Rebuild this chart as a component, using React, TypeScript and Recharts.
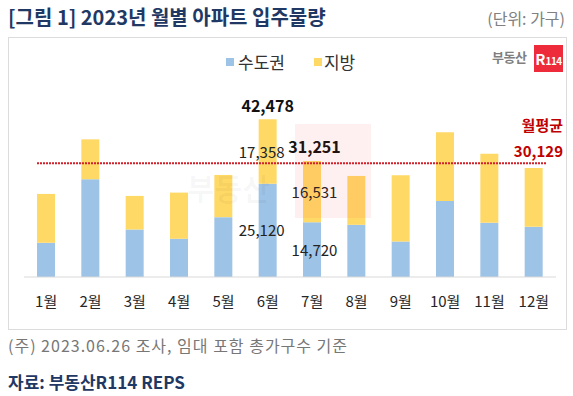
import { BarChart, Bar, XAxis, YAxis, ReferenceLine, LabelList, Legend } from "recharts";

const months = ["1월", "2월", "3월", "4월", "5월", "6월", "7월", "8월", "9월", "10월", "11월", "12월"];
const capital = [9220, 26340, 12800, 10300, 16130, 25120, 14720, 14060, 9570, 20510, 14600, 13520];
const regional = [13170, 10750, 9050, 12440, 11370, 17358, 16531, 13170, 17850, 18470, 18630, 15860];
const labeledMonths = ["6월", "7월"];
const labelShift = [-6, 2.5];
const monthlyAvg = 30129;

const data = months.map((m, i) => ({
  month: m,
  capital: capital[i],
  regional: regional[i],
  total: capital[i] + regional[i],
}));

const FONT = "'Noto Sans CJK KR', 'Noto Sans', sans-serif";
const fmt = (v: number) => v.toLocaleString("en-US");

const segLabel = (key: "capital" | "regional") => (props: any) => {
  const { x, y, width, height, index } = props;
  const d = data[index];
  const k = labeledMonths.indexOf(d.month);
  if (k < 0) return null;
  return (
    <text x={x + width / 2 + labelShift[k]} y={y + height / 2 + 2} textAnchor="middle" dominantBaseline="middle" fontSize={15} fill="#222" fontFamily={FONT}>
      {fmt(d[key])}
    </text>
  );
};

const totalLabel = (props: any) => {
  const { x, y, width, index } = props;
  const d = data[index];
  const k = labeledMonths.indexOf(d.month);
  if (k < 0) return null;
  return (
    <text x={x + width / 2 + (k === 1 ? 2.5 : 0)} y={y - 12} textAnchor="middle" dominantBaseline="middle" fontSize={16} fontWeight={700} fill="#111" fontFamily={FONT}>
      {fmt(d.total)}
    </text>
  );
};

const avgLabel = (props: any) => {
  const { viewBox } = props;
  const right = viewBox.x + viewBox.width + 7;
  return (
    <g fontFamily={FONT} fontWeight={700} fill="#c00000" fontSize={15} textAnchor="end">
      <text x={right} y={viewBox.y - 38} dominantBaseline="middle">월평균</text>
      <text x={right} y={viewBox.y - 12} dominantBaseline="middle">{fmt(monthlyAvg)}</text>
    </g>
  );
};

const legendContent = () => (
  <div style={{ display: "flex", fontFamily: FONT, fontSize: 17, color: "#333", lineHeight: "22px" }}>
    {[
      { name: "수도권", color: "#9dc3e6", gap: 4 },
      { name: "지방", color: "#ffd966", gap: 2 },
    ].map((it) => (
      <div key={it.name} style={{ display: "flex", alignItems: "center", marginRight: 29 }}>
        <span style={{ width: 8, height: 8, background: it.color, marginRight: it.gap, display: "inline-block" }} />
        <span>{it.name}</span>
      </div>
    ))}
  </div>
);

export default function App() {
  return (
    <div style={{ position: "absolute", left: 0, top: 0, width: 573, height: 396, background: "#fff", fontFamily: FONT, overflow: "hidden" }}>
      <div style={{ position: "absolute", left: 8, top: 3, fontSize: 20, fontWeight: 700, color: "#1f3864", lineHeight: "28px", whiteSpace: "nowrap" }}>
        [그림 1] 2023년 월별 아파트 입주물량
      </div>
      <div style={{ position: "absolute", right: 8, top: 6, fontSize: 16, color: "#808080", lineHeight: "24px" }}>(단위: 가구)</div>
      <div style={{ position: "absolute", left: 8, top: 37, width: 559, height: 293, border: "1px solid #dcdcdc", boxSizing: "border-box" }} />

      <div style={{ position: "absolute", left: 492, top: 47, fontSize: 13, fontWeight: 700, color: "#7f7f7f", lineHeight: "20px", letterSpacing: -0.5 }}>부동산</div>
      <div style={{ position: "absolute", left: 534, top: 45, width: 29, height: 27, background: "#ee2b3b", color: "#fff", fontWeight: 700, lineHeight: "27px", textAlign: "center" }}>
        <span style={{ fontSize: 15 }}>R</span>
        <span style={{ fontSize: 10, letterSpacing: -0.5 }}>114</span>
      </div>

      <div style={{ position: "absolute", left: 0, top: 0 }}>
        <BarChart width={573} height={396} data={data} margin={{ top: 110, right: 17, bottom: 89, left: 24 }} barSize={18}>
          <XAxis
            dataKey="month"
            height={30}
            tickLine={false}
            axisLine={{ stroke: "#d9d9d9" }}
            tickMargin={13}
            interval={0}
            tick={{ fontSize: 15, fill: "#262626", fontFamily: FONT }}
          />
          <YAxis hide domain={[0, 45000]} />
          <Legend
            verticalAlign="middle"
            align="center"
            content={legendContent}
            wrapperStyle={{ top: 51, left: 226, width: 220, height: 24 }}
          />
          <Bar dataKey="capital" name="수도권" stackId="a" fill="#9dc3e6" isAnimationActive={false}>
            <LabelList dataKey="capital" content={segLabel("capital")} />
          </Bar>
          <Bar dataKey="regional" name="지방" stackId="a" fill="#ffd966" isAnimationActive={false}>
            <LabelList dataKey="regional" content={segLabel("regional")} />
            <LabelList dataKey="total" content={totalLabel} />
          </Bar>
          <ReferenceLine
            y={monthlyAvg}
            stroke="#c00000"
            strokeWidth={2}
            strokeDasharray="2 1"
            shape={(p: any) => (
              <line x1={p.x1 + 13} y1={p.y1 - 2} x2={p.x2 - 10} y2={p.y2 - 2} stroke="#d0202a" strokeWidth={2} strokeDasharray="2 1" />
            )}
            label={avgLabel}
          />
        </BarChart>
      </div>

      <div style={{ position: "absolute", left: 187, top: 172, fontSize: 30, fontWeight: 700, color: "rgba(0,0,0,0.035)", lineHeight: "30px", pointerEvents: "none" }}>부동산</div>
      <div style={{ position: "absolute", left: 295, top: 124, width: 76, height: 94, background: "rgba(240,40,60,0.07)", pointerEvents: "none" }} />

      <div style={{ position: "absolute", left: 8, top: 333, fontSize: 16, letterSpacing: 1, color: "#777", lineHeight: "24px", whiteSpace: "nowrap" }}>
        (주) 2023.06.26 조사, 임대 포함 총가구수 기준
      </div>
      <div style={{ position: "absolute", left: 8, top: 370, fontSize: 17, fontWeight: 700, color: "#1f3864", lineHeight: "24px", whiteSpace: "nowrap" }}>
        자료: 부동산R114 REPS
      </div>
    </div>
  );
}
